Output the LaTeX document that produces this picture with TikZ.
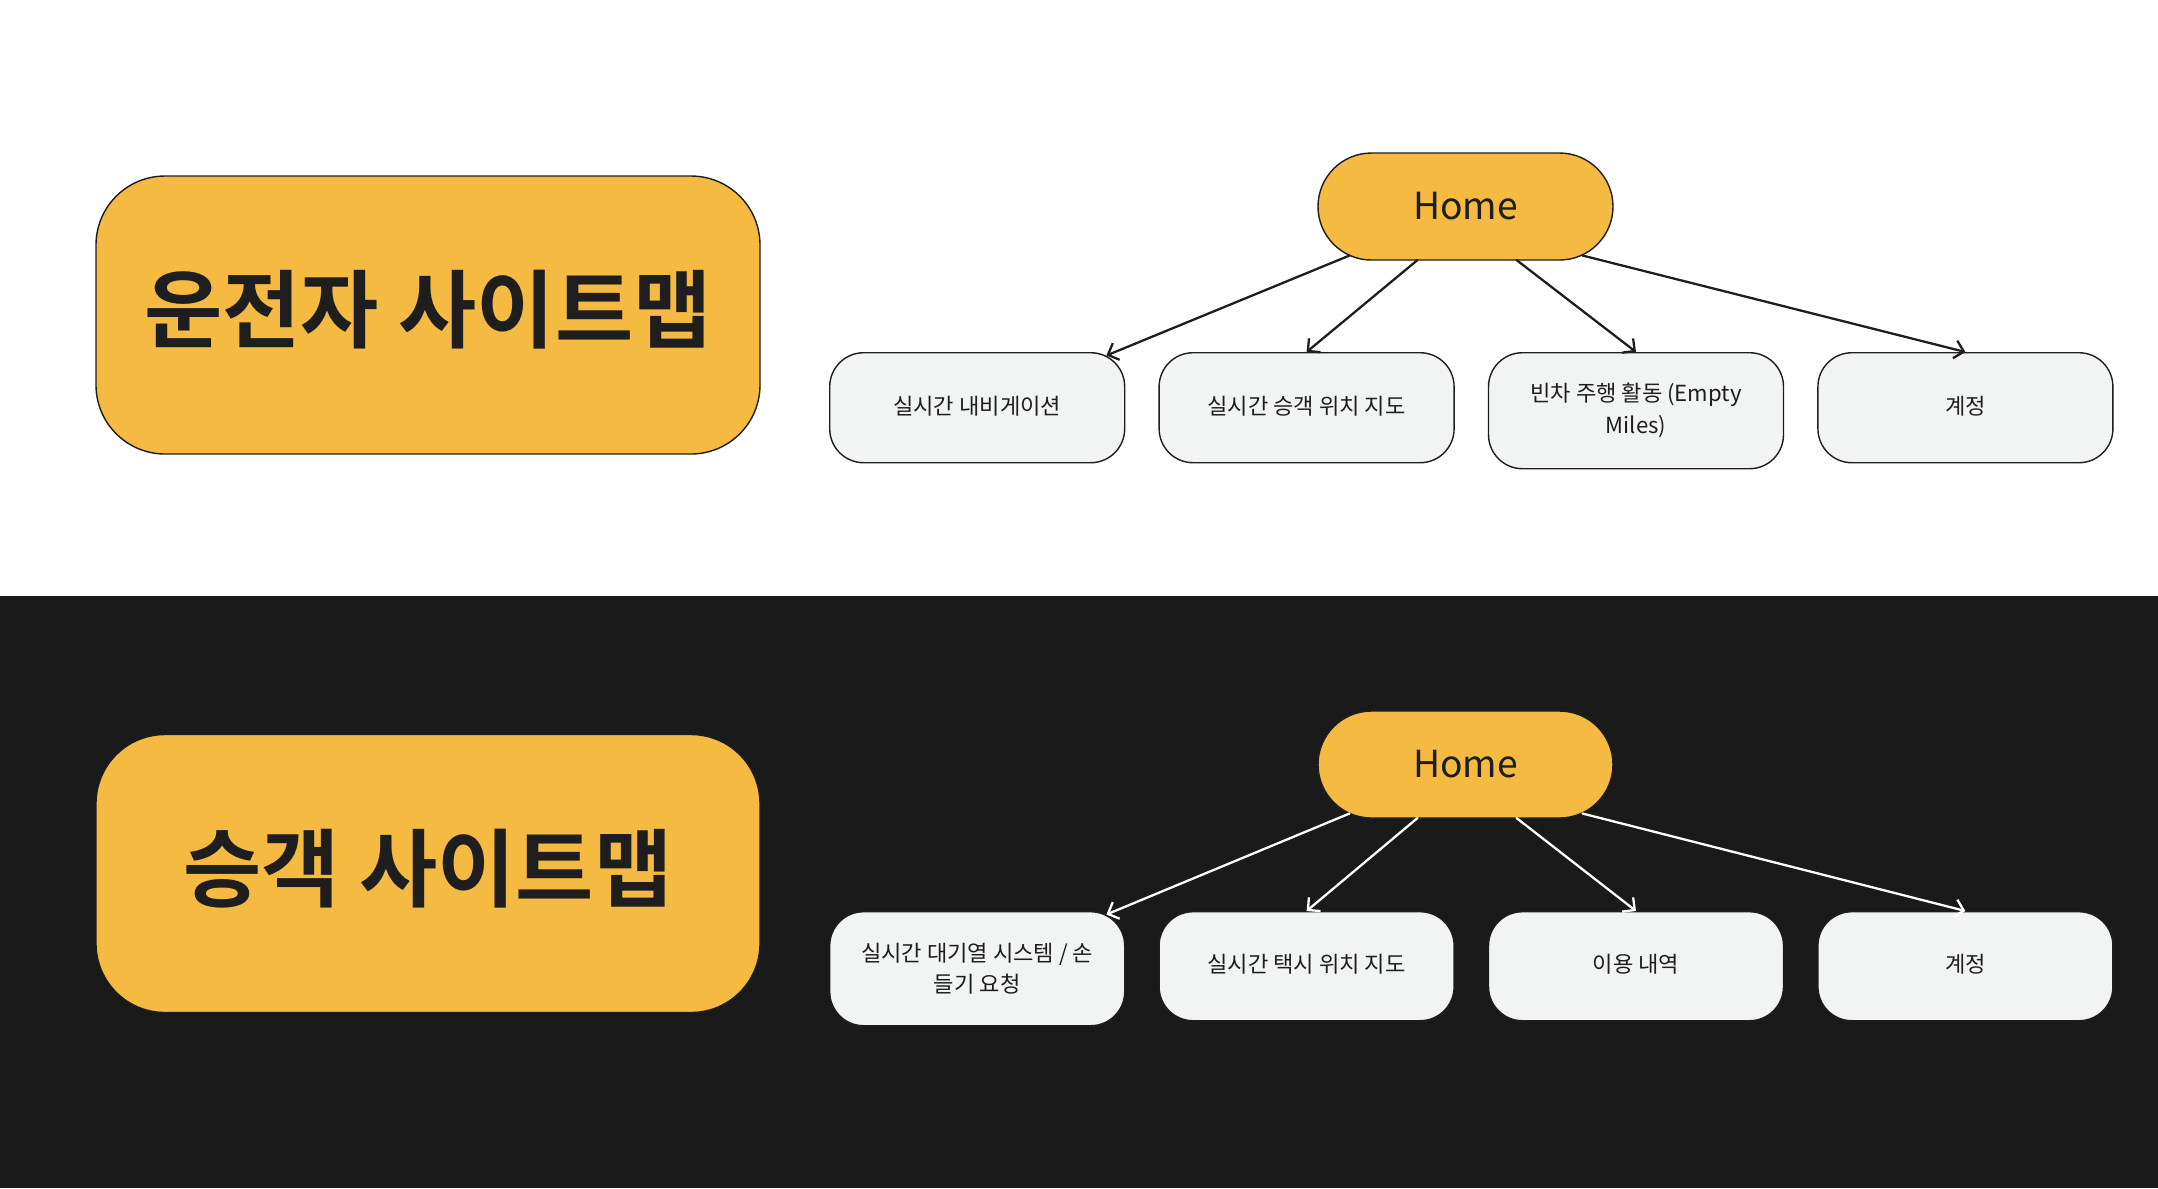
\documentclass[tikz,border=0pt]{standalone}
\usepackage{fontspec}
\setmainfont{Noto Sans CJK KR}[BoldFont={Noto Sans CJK KR Bold}]
\usepackage{tikz}
\usetikzlibrary{arrows.meta,calc,positioning}
\definecolor{mapyellow}{HTML}{F4BA41}
\definecolor{mapink}{HTML}{1E1E1E}
\definecolor{mapdark}{HTML}{1A1A1A}
\definecolor{mappage}{HTML}{F2F3F3}

\begin{document}
\begin{tikzpicture}[
  font=\fontsize{6.3pt}{9pt}\selectfont,
  line cap=round,
  arrK/.style={-{Straight Barb[length=0.9mm,width=1.8mm]}, line width=0.65pt, draw=mapink},
  arrW/.style={arrK, draw=white},
  title/.style={rectangle, rounded corners=0.69cm, minimum width=6.64cm, minimum height=2.78cm,
    draw=mapink, line width=0.4pt, fill=mapyellow, text=mapink,
    font=\fontsize{24.2pt}{28pt}\selectfont\bfseries},
  home/.style={rectangle, rounded corners=0.535cm, minimum width=2.95cm, minimum height=1.07cm,
    draw=mapink, line width=0.4pt, fill=mapyellow, text=mapink,
    font=\fontsize{10.6pt}{13pt}\selectfont},
  page/.style={rectangle, rounded corners=0.34cm, minimum width=2.95cm, minimum height=1.10cm,
    inner sep=2pt, align=center, draw=mapink, line width=0.4pt, fill=mappage, text=mapink},
]
  % Page: white upper half, dark lower half
  \fill[white] (0,0) rectangle (21.58,-5.96);
  \fill[mapdark] (0,-5.96) rectangle (21.58,-11.88);
  \useasboundingbox (0,0) rectangle (21.58,-11.88);
  % Driver sitemap (top)
  \node[title] (drv) at (4.28,-3.15) {\raisebox{1.8mm}{운전자 사이트맵}};
  \node[home] (dhome) at (14.655,-2.065) {Home};
  \node[page, anchor=north west] (dnav) at (8.29,-3.52) {\raisebox{0.5mm}{실시간 내비게이션}};
  \node[page, anchor=north west] (dmap) at ($(dnav.north east)+(0.33,0)$) {\raisebox{0.5mm}{실시간 승객 위치 지도}};
  \node[page, anchor=north west, minimum height=1.16cm] (dempty) at ($(dmap.north east)+(0.33,0)$)
    {빈차 주행 활동 (Empty\\Miles)};
  \node[page, anchor=north west] (dacct) at ($(dempty.north east)+(0.33,0)$) {\raisebox{0.5mm}{계정}};
  % Passenger sitemap (bottom)
  \node[title] (pax) at (4.28,-8.735) {\raisebox{1.8mm}{승객 사이트맵}};
  \node[home] (phome) at (14.655,-7.645) {Home};
  \node[page, anchor=north west, minimum height=1.14cm] (pqueue) at (8.29,-9.11)
    {실시간 대기열 시스템 / 손\\들기 요청};
  \node[page, anchor=north west, minimum height=1.09cm] (pmap) at ($(pqueue.north east)+(0.33,0)$) {\raisebox{0.5mm}{실시간 택시 위치 지도}};
  \node[page, anchor=north west, minimum height=1.09cm] (phist) at ($(pmap.north east)+(0.33,0)$) {\raisebox{0.5mm}{이용 내역}};
  \node[page, anchor=north west, minimum height=1.09cm] (pacct) at ($(phist.north east)+(0.33,0)$) {\raisebox{0.5mm}{계정}};
  % Arrows: driver
  \draw[arrK] ($(dhome.center)+(-1.16,-0.49)$) -- ($(dnav.north east)+(-0.19,-0.035)$);
  \draw[arrK] ($(dhome.center)+(-0.48,-0.535)$) -- (dmap.north);
  \draw[arrK] ($(dhome.center)+(0.51,-0.535)$) -- (dempty.north);
  \draw[arrK] ($(dhome.center)+(1.17,-0.49)$) -- (dacct.north);
  % Arrows: passenger
  \draw[arrW] ($(phome.center)+(-1.16,-0.49)$) -- ($(pqueue.north east)+(-0.19,-0.035)$);
  \draw[arrW] ($(phome.center)+(-0.48,-0.535)$) -- (pmap.north);
  \draw[arrW] ($(phome.center)+(0.51,-0.535)$) -- (phist.north);
  \draw[arrW] ($(phome.center)+(1.17,-0.49)$) -- (pacct.north);
\end{tikzpicture}
\end{document}
